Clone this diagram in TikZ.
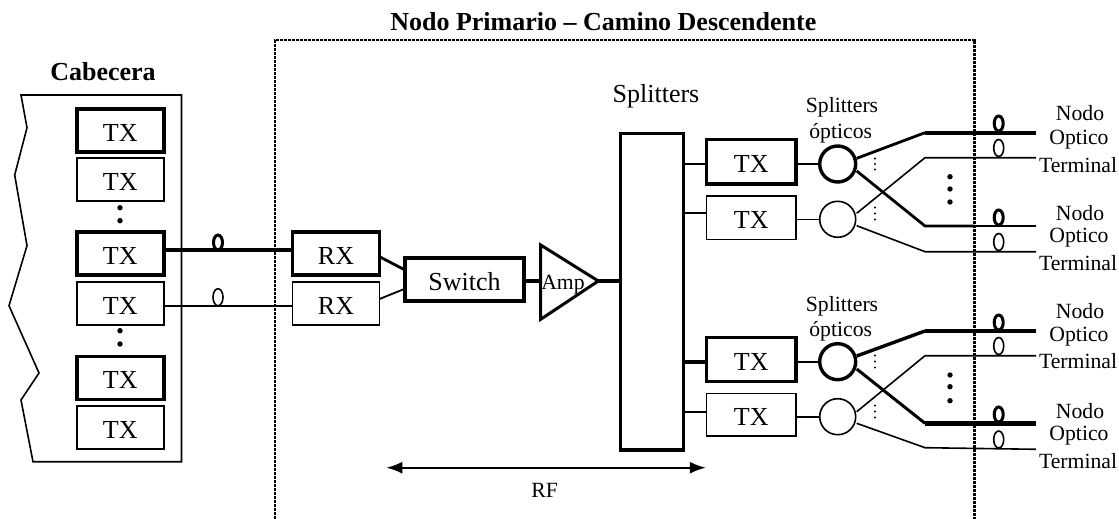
\documentclass[tikz,border=0pt]{standalone}
\usepackage{fontspec}
\setmainfont{Liberation Serif}
\usetikzlibrary{shapes.geometric,arrows.meta}
\newcommand{\fs}[1]{\fontsize{#1}{#1}\selectfont}
\tikzset{
  thinw/.style={line width=1.6pt},
  medw/.style={line width=2.8pt},
  thickw/.style={line width=3.6pt},
  boxbase/.style={draw,rectangle,inner sep=0pt,outer sep=0pt,text height=21.5pt,text depth=0pt,font=\fs{26}},
  thinbox/.style={boxbase,thinw},
  thickbox/.style={boxbase,line width=3.4pt},
  txsize/.style={minimum width=87pt,minimum height=43pt},
  loopthin/.style={draw,ellipse,thinw,inner sep=0pt,outer sep=0pt,minimum width=10pt,minimum height=17pt},
  loopthick/.style={draw,ellipse,line width=3pt,inner sep=0pt,outer sep=0pt,minimum width=9pt,minimum height=15pt},
  splitthin/.style={draw,circle,thinw,inner sep=0pt,outer sep=0pt,minimum size=36pt},
  splitthick/.style={draw,circle,line width=3.4pt,inner sep=0pt,outer sep=0pt,minimum size=36pt},
  bigdot/.style={circle,fill,inner sep=0pt,minimum size=5.4pt},
  smalldot/.style={circle,fill,inner sep=0pt,minimum size=2.4pt},
  lab/.style={inner sep=0pt,font=\fs{21.7}},
  labbig/.style={inner sep=0pt,font=\fs{26}},
  labbold/.style={inner sep=0pt,font=\fs{26}\bfseries},
}
\begin{document}
\begin{tikzpicture}[x=1pt,y=-1pt]
\useasboundingbox (0,0) rectangle (1119,519);
% dashed frame
\coordinate (fa) at (275,519);
\coordinate (fb) at (275,40);
\coordinate (fc) at (974.6,40);
\coordinate (fd) at (974.6,519);
% Cabecera
\draw[line width=1.6pt,line join=miter] (21,95) -- (181.5,95) -- (181.5,461.7) -- (33,461.7) -- (21,400) -- (39,373) -- (9,305.7) -- (27,245.7) -- (14.7,175) -- (27,127.7) -- cycle;
\node[labbold] (cab) at (103,72) {Cabecera};
\node[labbold] (title) at (603.3,22) {Nodo Primario – Camino Descendente};
% head-end TX
\node[thickbox,txsize] (t1) at (120.3,130.5) {TX};
\node[thinbox,txsize]  (t2) at (120.3,179.5) {TX};
\node[thickbox,txsize] (t3) at (120.3,253.3) {TX};
\node[thinbox,txsize]  (t4) at (120.3,303.7) {TX};
\node[thickbox,txsize] (t5) at (120.3,377.7) {TX};
\node[thinbox,txsize]  (t6) at (120.3,427.3) {TX};
\node[bigdot] (d1) at (120,207.7) {};
\node[bigdot] (d2) at (120,220.7) {};
\node[bigdot] (d3) at (120,330.7) {};
\node[bigdot] (d4) at (120,344) {};
% RX
\node[thickbox,txsize] (r1) at (336,253.3) {RX};
\node[thinbox,txsize]  (r2) at (336,303.5) {RX};
\node[thickbox,minimum width=119pt,minimum height=43pt] (sw) at (464.5,279.5) {Switch};
% amp
\coordinate (ampa) at (540.7,245);
\coordinate (ampb) at (540.7,319.3);
\coordinate (ampc) at (598.3,281);
\draw[line width=3pt,line join=miter] (ampa) -- (ampc) -- (ampb) -- cycle;
\node[lab] (amplab) at (563,285) {Amp};
% splitter
\node[draw,rectangle,line width=3.4pt,inner sep=0pt,outer sep=0pt,minimum width=63pt,minimum height=316.7pt] (sp) at (652.2,291.7) {};
\node[labbig] (splab) at (656,96) {Splitters};
% links head-end to RX
\draw[thickw] (t3.east |- 0,250) -- (r1.west |- 0,250);
\draw[thinw] (t4.east |- 0,305.7) -- (r2.west |- 0,305.7);
\node[loopthick,anchor=south] (l1) at (218,250) {};
\node[loopthin,anchor=south] (l2) at (218,305.7) {};
\draw[medw] (r1.east |- 0,256.7) -- (sw.west |- 0,270);
\draw[line width=1.8pt] (r2.east |- 0,299) -- (sw.west |- 0,288.7);
\draw[thickw] (sw.east |- 0,281) -- (ampa |- 0,281);
\draw[thickw] (ampc) -- (sp.west |- ampc);
% upper group
\node[thickbox,minimum width=89.3pt,minimum height=44.7pt] (u1) at (751.3,161.7) {TX};
\node[thinbox,minimum width=89.3pt,minimum height=43.6pt] (u2) at (751.3,217.5) {TX};
\node[splitthick] (c1) at (837.7,164) {};
\node[splitthin] (c2) at (837.7,219.3) {};
\draw[line width=2.6pt] (sp.east |- 0,164) -- (u1.west |- 0,164);
\draw[thinw] (sp.east |- 0,213) -- (u2.west |- 0,213);
\draw[line width=2.6pt] (u1.east |- c1) -- (c1);
\draw[thinw] (u2.east |- c2) -- (c2);
\coordinate (a1) at (856.7,158.3); \coordinate (a2) at (925,132.7); \coordinate (a3) at (1036,132.7);
\coordinate (b1) at (856.7,213.3); \coordinate (b2) at (925,157.7); \coordinate (b3) at (1036,157.7);
\coordinate (e1) at (856.7,171);   \coordinate (e2) at (925,226);   \coordinate (e3) at (1036,226);
\coordinate (f1) at (856.7,225.7); \coordinate (f2) at (925,251.7); \coordinate (f3) at (1036,251.7);
\draw[medw] (a1) -- (a2);
\draw[line width=4.4pt] (a2) -- (a3);
\draw[thinw] (b1) -- (b2) -- (b3);
\draw[medw] (e1) -- (e2) -- (974.6,226);
\draw[line width=1.8pt] (974.6,226) -- (e3);
\draw[thinw] (f1) -- (f2) -- (f3);
\node[loopthick,anchor=south] (l3) at (998.7,131) {};
\node[loopthin,anchor=south] (l4) at (998.7,156.5) {};
\node[loopthick,anchor=south] (l5) at (998.7,225) {};
\node[loopthin,anchor=south] (l6) at (998.7,250.5) {};
% lower group
\node[thickbox,minimum width=89.3pt,minimum height=44.4pt] (u3) at (751.3,359.5) {TX};
\node[thinbox,minimum width=89.3pt,minimum height=42.6pt] (u4) at (751.3,414.8) {TX};
\node[splitthick] (c3) at (837.7,361.7) {};
\node[splitthin] (c4) at (837.7,416.7) {};
\draw[thickw] (sp.east |- 0,361.7) -- (u3.west |- 0,361.7);
\draw[thinw] (sp.east |- 0,411.7) -- (u4.west |- 0,411.7);
\draw[thinw] (u3.east |- c3) -- (c3);
\draw[thinw] (u4.east |- c4) -- (c4);
\coordinate (g1) at (856.7,356); \coordinate (g2) at (925,331); \coordinate (g3) at (1036,331);
\coordinate (h1) at (856.7,411.7); \coordinate (h2) at (925,355.7); \coordinate (h3) at (1036,355.7);
\coordinate (i1) at (856.7,369); \coordinate (i2) at (925,423.3); \coordinate (i3) at (1036,423.3);
\coordinate (j1) at (856.7,423.3); \coordinate (j2) at (925,447.7); \coordinate (j3) at (1036,449.3);
\draw[line width=3.4pt] (g1) -- (g2);
\draw[line width=4.4pt] (g2) -- (g3);
\draw[thinw] (h1) -- (h2) -- (h3);
\draw[line width=3pt] (i1) -- (i2);
\draw[line width=4.4pt] (i2) -- (i3);
\draw[thinw] (j1) -- (j2) -- (j3);
\node[loopthick,anchor=south] (l7) at (998.7,330) {};
\node[loopthin,anchor=south] (l8) at (998.7,354.5) {};
\node[loopthick,anchor=south] (l9) at (998.7,422) {};
\node[loopthin,anchor=south] (l10) at (998.7,448) {};
% dots
\foreach \n/\y in {a/158.5,b/164,c/169.5,d/207.5,e/213.5,f/219.5,g/355.5,h/361.5,i/367.5,j/405.5,k/411.5,m/417.5}
  \node[smalldot] (s\n) at (875,\y) {};
\foreach \n/\y in {a/176.7,b/189,c/202,d/375,e/386.7,f/400.7}
  \node[bigdot] (q\n) at (950,\y) {};
% frame on top
\draw[line width=2.4pt,dash pattern=on 3pt off 1pt] (fa) -- (fb) -- (fc) -- (fd);
% labels
\node[lab] (sa) at (842,107) {Splitters};
\node[lab] (sb) at (840.7,133) {ópticos};
\node[lab] (sc) at (842,306) {Splitters};
\node[lab] (sd) at (840.7,331.7) {ópticos};
\foreach \n/\y in {1/113,2/213,3/311,4/411} \node[lab] (na\n) at (1080,\y) {Nodo};
\foreach \n/\y in {1/140,2/238,3/337,4/436} \node[lab] (nb\n) at (1079,\y) {Optico};
\foreach \n/\y in {1/165,2/263,3/361,4/461} \node[lab] (nc\n) at (1078,\y) {Terminal};
% RF
\coordinate (rfa) at (386.4,467.7);
\coordinate (rfb) at (705.8,467.7);
\draw[line width=1.8pt,{Latex[length=16pt,width=12pt]}-{Latex[length=16pt,width=12pt]}] (rfa) -- (rfb);
\node[lab] (rf) at (544.6,490.7) {RF};
\end{tikzpicture}
\end{document}
